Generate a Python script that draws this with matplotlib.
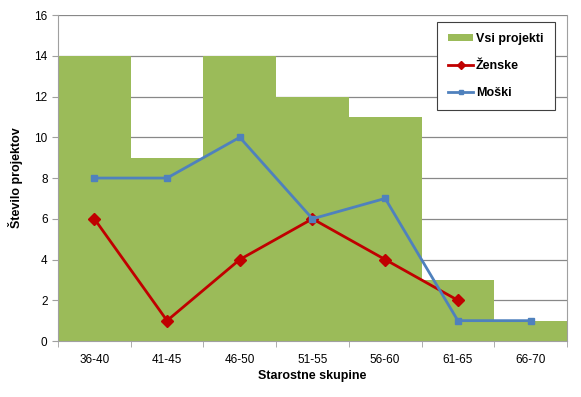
import matplotlib
matplotlib.use("Agg")
import matplotlib.pyplot as plt
import numpy as np

categories = ["36-40", "41-45", "46-50", "51-55", "56-60", "61-65", "66-70"]
vsi = [14, 9, 14, 12, 11, 3, 1]
zenske = [6, 1, 4, 6, 4, 2]
moski = [8, 8, 10, 6, 7, 1, 1]

plt.rcParams['font.family'] = ['Liberation Sans', 'DejaVu Sans']

fig = plt.figure(figsize=(5.81, 3.97), dpi=100)
ax = fig.add_axes([0.0998, 0.141, 0.876, 0.821])

x = np.arange(len(categories))
b = ax.bar(x, vsi, width=1.0, color="#9BBB59", label="Vsi projekti", zorder=2)
lz, = ax.plot(np.arange(len(zenske)), zenske, color="#C00000", lw=2, marker="D", ms=6,
              label="Ženske", zorder=3)
lm, = ax.plot(x, moski, color="#4F81BD", lw=2, marker="s", ms=5, label="Moški", zorder=4)

ax.set_xlim(-0.5, len(categories) - 0.5)
ax.set_ylim(0, 16)
ax.set_yticks(range(0, 17, 2))
ax.set_xticks(x)
ax.set_xticklabels(categories, fontsize=8.5)
ax.set_xticks(np.arange(-0.5, len(categories), 1.0), minor=True)
ax.tick_params(axis='x', which='major', length=0, pad=9)
ax.tick_params(axis='x', which='minor', length=4, color="#A0A0A0")
ax.tick_params(axis='y', labelsize=8.5, length=4, color="#A0A0A0")
ax.yaxis.grid(True, color="#888888", lw=0.9, zorder=0)
ax.set_axisbelow(True)

ax.spines["top"].set_visible(False)
for s in ["left", "right", "bottom"]:
    ax.spines[s].set_color("#A0A0A0")

ax.set_xlabel("Starostne skupine", fontsize=9, fontweight="bold", labelpad=3)
ax.set_ylabel("Število projektov", fontsize=9, fontweight="bold", labelpad=8)

leg = ax.legend(handles=[b, lz, lm], loc="upper right", bbox_to_anchor=(0.976, 0.979),
                fancybox=False, frameon=True, edgecolor="#404040",
                prop={"weight": "bold", "size": 9}, framealpha=1,
                handlelength=2.0, handleheight=0.5, handletextpad=0.2,
                labelspacing=1.2, borderpad=0.9, borderaxespad=0,
                markerscale=0.7)
leg.get_frame().set_linewidth(0.8)

fig.savefig("out.png", dpi=100)
